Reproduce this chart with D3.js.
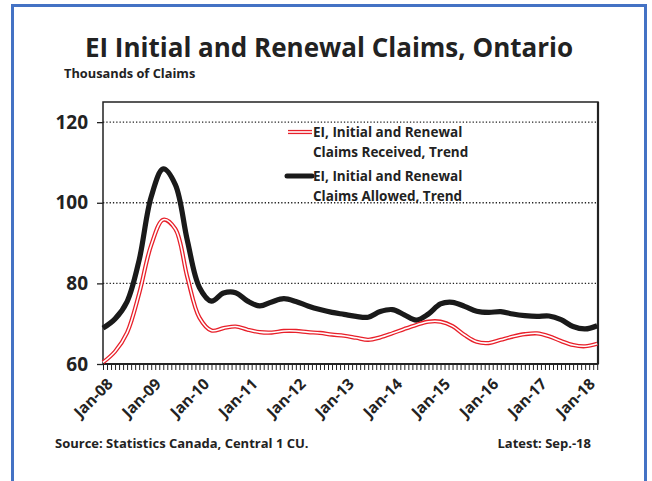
<!DOCTYPE html>
<html><head><meta charset="utf-8">
<script src="https://cdn.jsdelivr.net/npm/d3@7"></script>
<style>body{margin:0;background:#fff}svg{display:block}text{font-family:"Open Sans",Lato,sans-serif;font-weight:bold;fill:#222}</style>
</head><body><svg id="c" width="652" height="481"></svg>
<script>
// Quarterly sample points of the trend series (thousands of claims)
const dates = ["2008-01","2008-04","2008-07","2008-10","2009-01","2009-04","2009-07","2009-10","2010-01","2010-04","2010-07","2010-10","2011-01","2011-04","2011-07","2011-10","2012-01","2012-04","2012-07","2012-10","2013-01","2013-04","2013-07","2013-10","2014-01","2014-04","2014-07","2014-10","2015-01","2015-04","2015-07","2015-10","2016-01","2016-04","2016-07","2016-10","2017-01","2017-04","2017-07","2017-10","2018-01","2018-04"];
const allowed = [68.9,71.2,75.5,85.8,101.5,108.4,104.5,90.6,79.0,75.6,77.6,77.7,75.6,74.4,75.4,76.2,75.5,74.4,73.5,72.8,72.3,71.8,71.6,73.0,73.5,72.2,70.9,72.4,74.9,75.3,74.3,73.1,72.8,73.0,72.4,72.0,71.8,71.9,71.0,69.3,68.7,69.5];
const received = [60.4,63.1,67.8,77.5,89.5,95.8,93.5,81.5,71.5,68.3,68.9,69.3,68.5,67.9,67.8,68.2,68.2,67.9,67.7,67.3,67.0,66.5,66.0,66.6,67.6,68.7,69.7,70.5,70.5,69.4,67.2,65.5,65.2,66.0,66.8,67.4,67.6,66.9,65.7,64.7,64.4,65.0];
const yTicks = [60,80,100,120];
const yearLabels = ["Jan-08","Jan-09","Jan-10","Jan-11","Jan-12","Jan-13","Jan-14","Jan-15","Jan-16","Jan-17","Jan-18"];
const seriesNames = [["EI, Initial and Renewal","Claims Received, Trend"],["EI, Initial and Renewal","Claims Allowed, Trend"]];
const title = "EI Initial and Renewal Claims, Ontario";
const yTitle = "Thousands of Claims";
const source = "Source: Statistics Canada, Central 1 CU.";
const latest = "Latest: Sep.-18";

const mi = s => { const [y,m] = s.split("-").map(Number); return (y-2008)*12 + (m-1); };
const svg = d3.select("#c");
const L=103, R=598, T=102, B=364;
const x = d3.scaleLinear().domain([0, 123.2]).range([L, R]);
const y = d3.scaleLinear().domain([60, 125]).range([B, T]);

// outer blue frame
svg.append("rect").attr("x",12.5).attr("y",5.5).attr("width",633).attr("height",490)
  .attr("fill","none").attr("stroke","#4472c4").attr("stroke-width",3);

svg.append("text").attr("x",329).attr("y",57).attr("text-anchor","middle")
  .style("font-size","26px").text(title);
svg.append("text").attr("x",64).attr("y",78).style("font-size","12.8px").text(yTitle);

// grid
svg.append("g").selectAll("line").data(yTicks.filter(v=>v>60)).join("line")
  .attr("x1",L).attr("x2",R).attr("y1",d=>y(d)).attr("y2",d=>y(d))
  .attr("stroke","#222").attr("stroke-width",1.3).attr("stroke-dasharray","1.3,2");

// y axis
const ya = svg.append("g").attr("transform",`translate(${L},0)`)
  .call(d3.axisLeft(y).tickValues(yTicks).tickSize(6).tickPadding(9).tickFormat(d3.format("d")));
ya.select(".domain").remove();
ya.selectAll("line").attr("stroke","#222").attr("stroke-width",1.3);
ya.selectAll("text").style("font-size","19px").style("font-family","'Open Sans',Lato,sans-serif").style("font-weight","bold").attr("fill","#222");

// x axis monthly ticks
const months = d3.range(0, 124);
const xa = svg.append("g").attr("transform",`translate(0,${B})`)
  .call(d3.axisBottom(x).tickValues(months).tickSize(6).tickFormat(""));
xa.select(".domain").remove();
xa.selectAll("line").attr("stroke","#222").attr("stroke-width",1);
svg.append("g").selectAll("text").data(yearLabels).join("text")
  .attr("transform",(d,i)=>`translate(${x(i*12)+3},${B+13}) rotate(-45)`)
  .attr("text-anchor","end").attr("dy","0.72em").style("font-size","15.5px").text(d=>d);

// plot frame
svg.append("rect").attr("x",L).attr("y",T).attr("width",R-L).attr("height",B-T)
  .attr("fill","none").attr("stroke","#222").attr("stroke-width",1.5);
svg.append("line").attr("x1",R).attr("x2",R).attr("y1",T).attr("y2",B).attr("stroke","#222").attr("stroke-width",2.2);
svg.append("line").attr("x1",L).attr("x2",R).attr("y1",B).attr("y2",B).attr("stroke","#222").attr("stroke-width",2.2);

const line = d3.line().x(d=>x(mi(d[0]))).y(d=>y(d[1])).curve(d3.curveCatmullRom.alpha(0.5));
const aData = dates.map((d,i)=>[d,allowed[i]]);
const rData = dates.map((d,i)=>[d,received[i]]);
svg.append("path").attr("d",line(aData)).attr("fill","none").attr("stroke","#1a1a1a").attr("stroke-width",5.2).attr("stroke-linejoin","round");
svg.append("path").attr("d",line(rData)).attr("fill","none").attr("stroke","#e8202a").attr("stroke-width",4.2);
svg.append("path").attr("d",line(rData)).attr("fill","none").attr("stroke","#fff").attr("stroke-width",1.6);

// legend
const lg = svg.append("g");
lg.append("line").attr("x1",288).attr("x2",312).attr("y1",132).attr("y2",132).attr("stroke","#e8202a").attr("stroke-width",4.2);
lg.append("line").attr("x1",288).attr("x2",312).attr("y1",132).attr("y2",132).attr("stroke","#fff").attr("stroke-width",1.6);
lg.append("line").attr("x1",287).attr("x2",312).attr("y1",176).attr("y2",176).attr("stroke","#1a1a1a").attr("stroke-width",5).attr("stroke-linecap","round");
seriesNames.forEach((n,i)=>{
  const y0 = i===0 ? 137 : 181;
  n.forEach((t,j)=>lg.append("text").attr("x",313).attr("y",y0 + j*20).style("font-size","13.5px").text(t));
});

svg.append("text").attr("x",55).attr("y",448).style("font-size","13px").text(source);
svg.append("text").attr("x",591).attr("y",448).attr("text-anchor","end").style("font-size","13px").text(latest);
</script></body></html>
